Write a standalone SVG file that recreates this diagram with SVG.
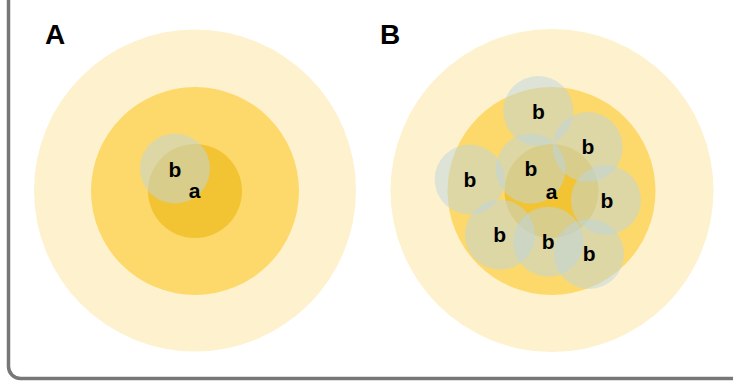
<svg xmlns="http://www.w3.org/2000/svg" width="733" height="383" viewBox="0 0 733 383">
<style>
.frame{fill:#ffffff;stroke:#777777;stroke-width:3.5}
.outer{fill:#FEF1CE}
.mid{fill:#FDD96B}
.inner{fill:#F2C434}
.b{fill:#BED5DF;fill-opacity:0.5}
.lbl{font-family:"Liberation Sans",Arial,sans-serif;font-weight:bold;font-size:21px;fill:#000;text-anchor:middle}
.title{font-family:"Liberation Sans",Arial,sans-serif;font-weight:bold;font-size:28px;fill:#000}
</style>
<rect class="frame" x="8.5" y="-12" width="740" height="390.5" rx="12" ry="12"/>
<g id="panelA">
  <text class="title" x="45" y="44">A</text>
  <g id="A-outer"><circle class="outer" cx="195" cy="190.5" r="161"/></g>
  <g id="A-mid"><circle class="mid" cx="195" cy="191" r="104"/></g>
  <g id="A-a"><circle class="inner" cx="195" cy="191" r="47"/></g>
  <g id="A-b"><circle class="b" cx="175" cy="168.5" r="35"/></g>
  <g id="A-labels">
    <text class="lbl" x="194.5" y="198">a</text>
    <text class="lbl" x="175" y="176.5">b</text>
  </g>
</g>
<g id="panelB">
  <text class="title" x="380" y="44">B</text>
  <g id="B-outer"><circle class="outer" cx="552" cy="190.5" r="161.5"/></g>
  <g id="B-mid"><circle class="mid" cx="551.5" cy="191" r="104"/></g>
  <g id="B-a"><circle class="inner" cx="551.5" cy="191" r="47"/></g>
  <g id="B-b1"><circle class="b" cx="538.3" cy="111" r="35"/></g>
  <g id="B-b2"><circle class="b" cx="587.7" cy="147" r="35"/></g>
  <g id="B-b3"><circle class="b" cx="530.7" cy="168.7" r="35"/></g>
  <g id="B-b4"><circle class="b" cx="469.7" cy="179.5" r="35"/></g>
  <g id="B-b5"><circle class="b" cx="606" cy="200" r="35"/></g>
  <g id="B-b6"><circle class="b" cx="500" cy="234.7" r="35"/></g>
  <g id="B-b7"><circle class="b" cx="548.3" cy="241.7" r="35"/></g>
  <g id="B-b8"><circle class="b" cx="589" cy="254" r="35"/></g>
  <g id="B-labels">
    <text class="lbl" x="551.5" y="199">a</text>
    <text class="lbl" x="538.5" y="119">b</text>
    <text class="lbl" x="587.8" y="154.3">b</text>
    <text class="lbl" x="530.8" y="176">b</text>
    <text class="lbl" x="469.8" y="186.7">b</text>
    <text class="lbl" x="606.8" y="207.7">b</text>
    <text class="lbl" x="499.7" y="241.7">b</text>
    <text class="lbl" x="548.2" y="249.3">b</text>
    <text class="lbl" x="589.2" y="261">b</text>
  </g>
</g>
<g id="connectors"></g>
</svg>
